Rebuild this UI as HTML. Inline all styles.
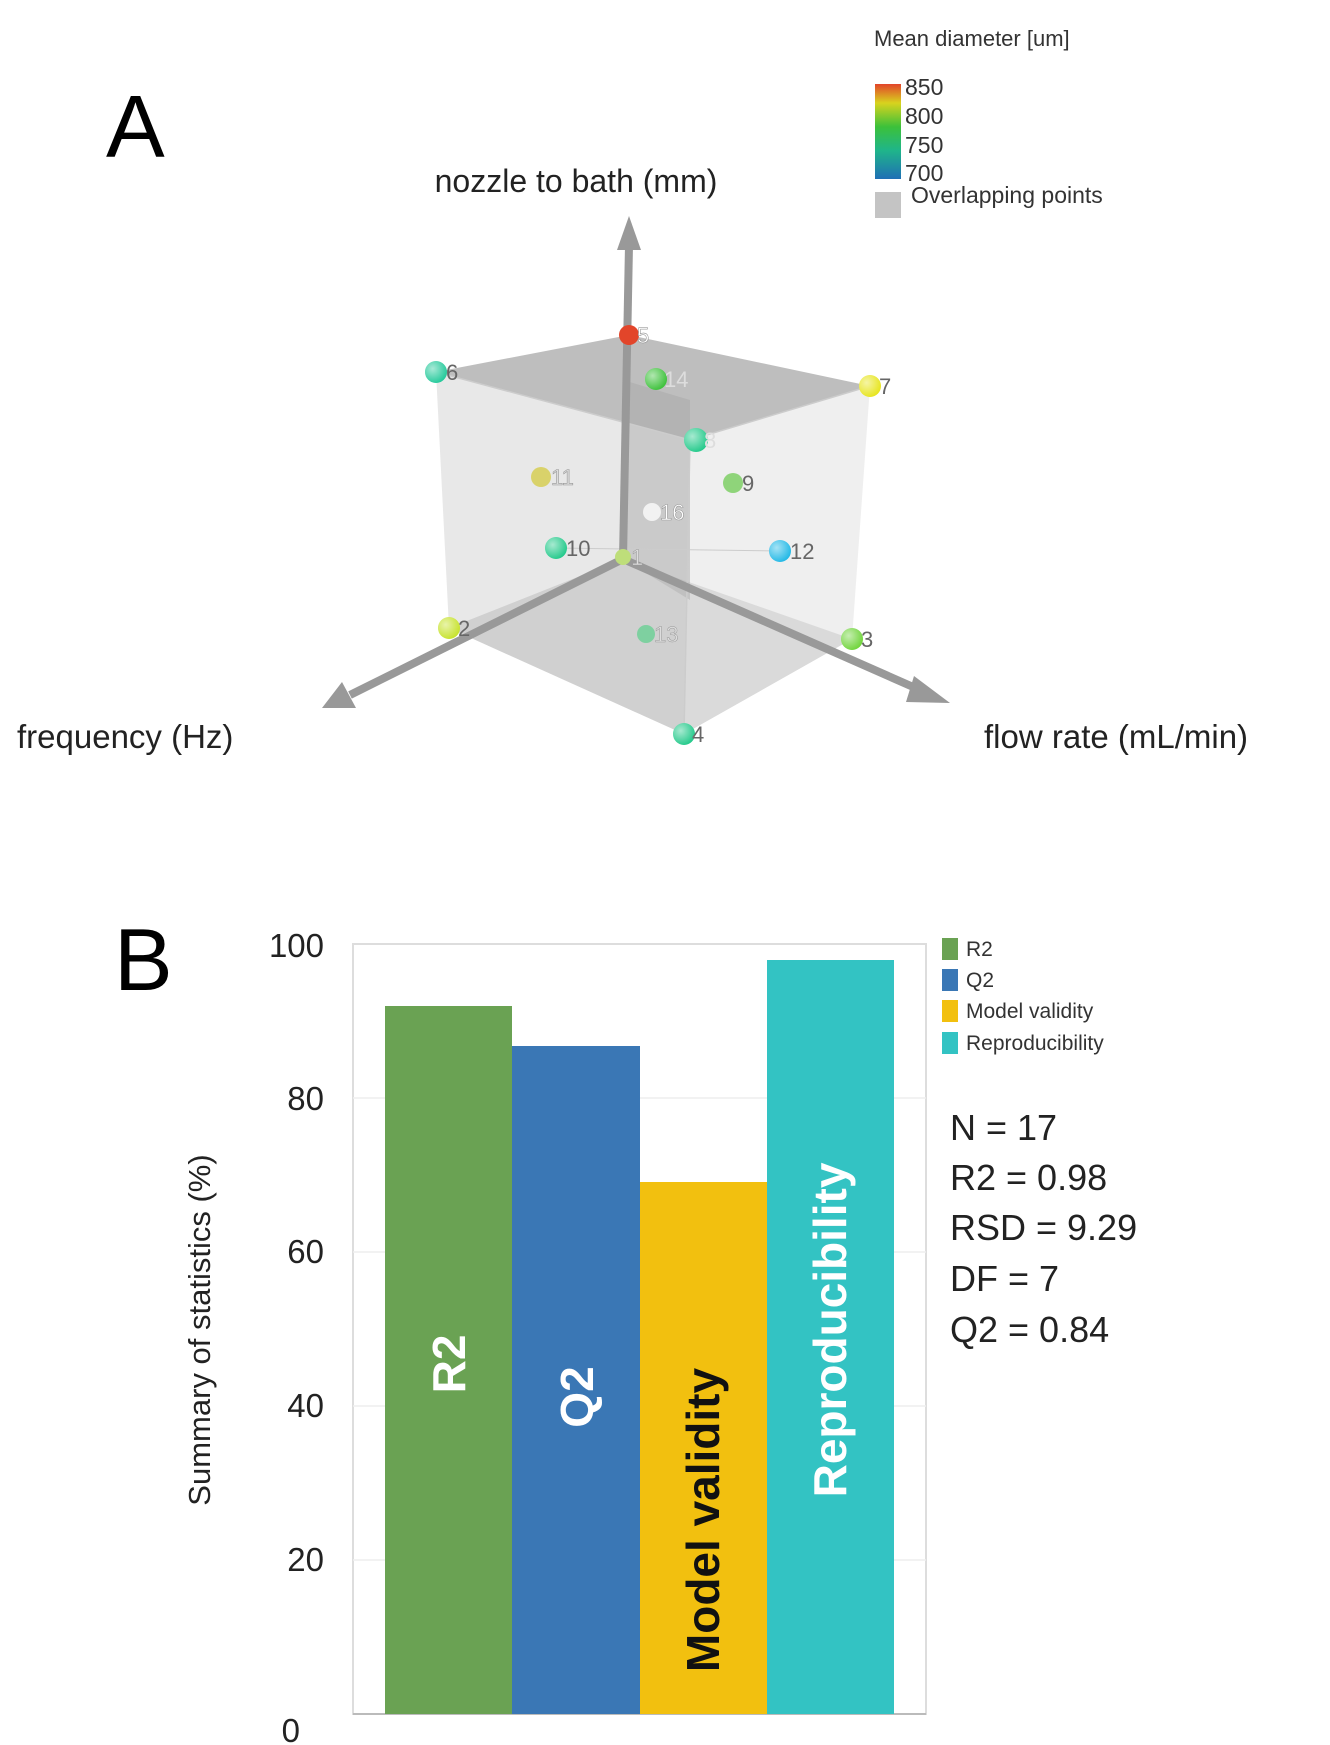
<!DOCTYPE html>
<html><head><meta charset="utf-8"><style>
html,body{margin:0;padding:0;background:#fff;}
svg{display:block;font-family:"Liberation Sans",sans-serif;}
</style></head><body>
<svg width="1330" height="1745" viewBox="0 0 1330 1745" xmlns="http://www.w3.org/2000/svg">
<defs>
<linearGradient id="cb" x1="0" y1="1" x2="0" y2="0">
<stop offset="0" stop-color="#1f6fb5"/><stop offset="0.3" stop-color="#1fb58a"/><stop offset="0.55" stop-color="#3cc13a"/><stop offset="0.8" stop-color="#d8d31e"/><stop offset="1" stop-color="#e2452a"/>
</linearGradient>
<radialGradient id="sh" cx="0.35" cy="0.35" r="0.7"><stop offset="0" stop-color="#fff" stop-opacity="0.6"/><stop offset="1" stop-color="#fff" stop-opacity="0"/></radialGradient>
</defs>
<!-- Panel A -->
<text x="106" y="157" font-size="88">A</text>
<text x="576" y="192" font-size="32" text-anchor="middle" fill="#222">nozzle to bath (mm)</text>
<text x="874" y="46" font-size="22" fill="#333">Mean diameter [um]</text>
<rect x="875" y="84" width="26" height="95" fill="url(#cb)"/>
<text x="905" y="95" font-size="23" fill="#333">850</text>
<text x="905" y="124" font-size="23" fill="#333">800</text>
<text x="905" y="153" font-size="23" fill="#333">750</text>
<text x="905" y="181" font-size="23" fill="#333">700</text>
<rect x="875" y="192" width="26" height="26" fill="#c4c4c4"/>
<text x="911" y="203" font-size="23" fill="#333">Overlapping points</text>

<!-- cube faces -->
<polygon points="623,559 449,628 684,734 852,639" fill="#b8b8b8" opacity="0.75"/>
<polygon points="436,372 690,440 684,734 449,628" fill="#d6d6d6" opacity="0.55"/>
<polygon points="690,440 870,386 852,639 684,734" fill="#e4e4e4" opacity="0.6"/>
<polygon points="623,380 690,400 690,600 623,559" fill="#b5b5b5" opacity="0.6"/>
<polygon points="436,372 629,335 870,386 690,440" fill="#a8a8a8" opacity="0.75"/>
<polyline points="436,372 690,440 870,386" fill="none" stroke="#ccc" stroke-width="1.5"/>
<line x1="690" y1="440" x2="684" y2="734" stroke="#ccc" stroke-width="1.5"/>
<line x1="556" y1="548" x2="780" y2="551" stroke="#ccc" stroke-width="1"/>

<!-- axes -->
<g stroke="#999" stroke-width="8" fill="none">
<line x1="623" y1="559" x2="629" y2="245"/>
<line x1="623" y1="559" x2="350" y2="695"/>
<line x1="623" y1="559" x2="920" y2="690"/>
</g>
<polygon points="629,216 617,250 641,250" fill="#999"/>
<polygon points="322,708 342,682 356,708" fill="#999"/>
<polygon points="950,703 914,676 906,702" fill="#999"/>
<text x="17" y="748" font-size="33" fill="#222">frequency (Hz)</text>
<text x="984" y="748" font-size="33" fill="#222">flow rate (mL/min)</text>

<!-- points -->
<g font-size="22" fill="#333">
<circle cx="629" cy="335" r="10" fill="#e2452a"/><text x="637" y="343" fill="#fff" stroke="#888" stroke-width="0.5">5</text>
<circle cx="436" cy="372" r="11" fill="#22c99a"/><text x="446" y="380" fill="#666">6</text>
<circle cx="656" cy="379" r="11" fill="#3cc13a"/><text x="664" y="387" fill="#ddd">14</text>
<circle cx="870" cy="386" r="11" fill="#e7e51c"/><text x="879" y="394" fill="#666">7</text>
<circle cx="696" cy="440" r="12" fill="#22c98a"/><text x="704" y="448" fill="#ddd">8</text>
<circle cx="541" cy="477" r="10" fill="#d9d26a"/><text x="551" y="485" fill="#ddd" stroke="#999" stroke-width="0.6">11</text>
<circle cx="733" cy="483" r="10" fill="#8fd47a"/><text x="742" y="491" fill="#666">9</text>
<circle cx="652" cy="512" r="9" fill="#f2f2f2"/><text x="660" y="520" fill="#fff" stroke="#999" stroke-width="0.6">16</text>
<circle cx="556" cy="548" r="11" fill="#22c98a"/><text x="566" y="556" fill="#666">10</text>
<circle cx="623" cy="557" r="8" fill="#bede7a"/><text x="631" y="565" fill="#ddd" stroke="#999" stroke-width="0.5">1</text>
<circle cx="780" cy="551" r="11" fill="#20b8e6"/><text x="790" y="559" fill="#666">12</text>
<circle cx="449" cy="628" r="11" fill="#c6e22a"/><text x="458" y="636" fill="#666">2</text>
<circle cx="646" cy="634" r="9" fill="#7ed0a0"/><text x="654" y="642" fill="#ddd" stroke="#999" stroke-width="0.5">13</text>
<circle cx="852" cy="639" r="11" fill="#6fd43a"/><text x="861" y="647" fill="#666">3</text>
<circle cx="684" cy="734" r="11" fill="#22c98a"/><text x="692" y="742" fill="#666">4</text>
</g>
<g fill="url(#sh)">
<circle cx="436" cy="372" r="11"/><circle cx="656" cy="379" r="11"/><circle cx="870" cy="386" r="11"/><circle cx="696" cy="440" r="12"/><circle cx="556" cy="548" r="11"/><circle cx="780" cy="551" r="11"/><circle cx="449" cy="628" r="11"/><circle cx="852" cy="639" r="11"/><circle cx="684" cy="734" r="11"/>
</g>

<!-- Panel B -->
<text x="114" y="990" font-size="88">B</text>
<rect x="353" y="944" width="573" height="770" fill="none" stroke="#ddd" stroke-width="2"/>
<g stroke="#eee" stroke-width="1.5">
<line x1="353" y1="1098" x2="926" y2="1098"/><line x1="353" y1="1252" x2="926" y2="1252"/>
<line x1="353" y1="1406" x2="926" y2="1406"/><line x1="353" y1="1560" x2="926" y2="1560"/>
</g>
<line x1="353" y1="1714" x2="926" y2="1714" stroke="#bbb" stroke-width="2"/>
<g font-size="33" fill="#222" text-anchor="end">
<text x="324" y="957">100</text><text x="324" y="1110">80</text><text x="324" y="1263">60</text>
<text x="324" y="1417">40</text><text x="324" y="1571">20</text><text x="300" y="1742">0</text>
</g>
<text transform="translate(210,1330) rotate(-90)" font-size="31" text-anchor="middle" fill="#222">Summary of statistics (%)</text>
<rect x="385" y="1006" width="127" height="708" fill="#6aa253"/>
<rect x="512" y="1046" width="128" height="668" fill="#3a77b5"/>
<rect x="640" y="1182" width="127" height="532" fill="#f2c00f"/>
<rect x="767" y="960" width="127" height="754" fill="#33c3c3"/>
<g font-size="46" font-weight="bold" text-anchor="middle">
<text transform="translate(465,1364) rotate(-90)" fill="#fff">R2</text>
<text transform="translate(593,1397) rotate(-90)" fill="#fff">Q2</text>
<text transform="translate(719,1520) rotate(-90)" fill="#111">Model validity</text>
<text transform="translate(846,1330) rotate(-90)" fill="#fff">Reproducibility</text>
</g>
<rect x="942" y="938" width="16" height="22" fill="#6aa253"/>
<rect x="942" y="969" width="16" height="22" fill="#3a77b5"/>
<rect x="942" y="1000" width="16" height="22" fill="#f2c00f"/>
<rect x="942" y="1032" width="16" height="22" fill="#33c3c3"/>
<g font-size="21" fill="#333">
<text x="966" y="956">R2</text><text x="966" y="987">Q2</text>
<text x="966" y="1018">Model validity</text><text x="966" y="1050">Reproducibility</text>
</g>
<g font-size="36" fill="#222">
<text x="950" y="1140">N = 17</text><text x="950" y="1190">R2 = 0.98</text>
<text x="950" y="1240">RSD = 9.29</text><text x="950" y="1291">DF = 7</text>
<text x="950" y="1342">Q2 = 0.84</text>
</g>
</svg>
</body></html>
